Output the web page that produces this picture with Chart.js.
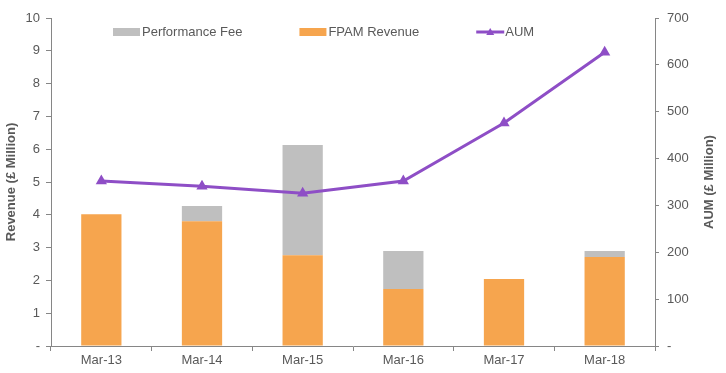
<!DOCTYPE html>
<html>
<head>
<meta charset="utf-8">
<script src="https://cdn.jsdelivr.net/npm/chart.js@4/dist/chart.umd.min.js"></script>
<style>
  html, body { margin: 0; padding: 0; background: #fff; }
  #wrap { width: 726px; height: 373px; }
</style>
</head>
<body>
<div id="wrap"><canvas id="chart"></canvas></div>
<script>
const categories = ['Mar-13', 'Mar-14', 'Mar-15', 'Mar-16', 'Mar-17', 'Mar-18'];
const fpamRevenue = [4.02, 3.8, 2.77, 1.74, 2.04, 2.71];
const performanceFee = [0, 0.47, 3.36, 1.16, 0, 0.19];
const aum = [352, 341, 326, 352, 476, 627];
const legendOrder = ['Performance Fee', 'FPAM Revenue', 'AUM'];

const GREY = '#BFBFBF';
const ORANGE = '#F6A54E';
const PURPLE = '#8E4EC6';
const TEXT = '#595959';
const AXIS = '#868686';
const FONT = "'Liberation Sans', Arial, sans-serif";

// legend + right-axis title drawn by hand: legend sits inside the plot, title reads bottom-to-top
const extras = {
  id: 'extras',
  afterDraw(chart) {
    const ctx = chart.ctx;
    const area = chart.chartArea;
    ctx.save();
    ctx.font = '13px ' + FONT;
    ctx.textBaseline = 'middle';
    ctx.fillStyle = TEXT;

    let x = area.left + 62;
    const y = area.top + 14;
    legendOrder.forEach(name => {
      const ds = chart.data.datasets.find(d => d.label === name);
      if (ds.type === 'line') {
        ctx.strokeStyle = ds.borderColor;
        ctx.lineWidth = 3;
        ctx.beginPath();
        ctx.moveTo(x, y);
        ctx.lineTo(x + 28, y);
        ctx.stroke();
        ctx.fillStyle = ds.borderColor;
        ctx.beginPath();
        ctx.moveTo(x + 14, y - 4);
        ctx.lineTo(x + 18, y + 3);
        ctx.lineTo(x + 10, y + 3);
        ctx.closePath();
        ctx.fill();
      } else {
        ctx.fillStyle = ds.backgroundColor;
        ctx.fillRect(x, y - 4, 27, 8);
      }
      ctx.fillStyle = TEXT;
      ctx.textAlign = 'left';
      ctx.fillText(name, x + 29, y);
      x += 29 + ctx.measureText(name).width + 57;
    });

    ctx.font = 'bold 13px ' + FONT;
    ctx.textAlign = 'center';
    ctx.translate(709, (area.top + area.bottom) / 2);
    ctx.rotate(-Math.PI / 2);
    ctx.fillText('AUM (£ Million)', 0, 0);
    ctx.restore();
  }
};

new Chart(document.getElementById('chart'), {
  data: {
    labels: categories,
    datasets: [
      {
        type: 'line',
        label: 'AUM',
        data: aum,
        yAxisID: 'y1',
        borderColor: PURPLE,
        backgroundColor: PURPLE,
        borderWidth: 3,
        pointStyle: 'triangle',
        pointRadius: 6.5,
        pointBorderWidth: 0,
        tension: 0,
        order: 0
      },
      {
        type: 'bar',
        label: 'FPAM Revenue',
        data: fpamRevenue,
        yAxisID: 'y',
        backgroundColor: ORANGE,
        stack: 'rev',
        barPercentage: 0.4,
        categoryPercentage: 1,
        order: 1
      },
      {
        type: 'bar',
        label: 'Performance Fee',
        data: performanceFee,
        yAxisID: 'y',
        backgroundColor: GREY,
        stack: 'rev',
        barPercentage: 0.4,
        categoryPercentage: 1,
        order: 1
      }
    ]
  },
  options: {
    responsive: true,
    maintainAspectRatio: false,
    animation: false,
    layout: { padding: { top: 18, left: 0, right: 0, bottom: 0 } },
    plugins: {
      legend: { display: false },
      tooltip: { enabled: false }
    },
    scales: {
      x: {
        stacked: true,
        afterFit: s => { s.height = 27; },
        border: { color: AXIS, width: 1 },
        grid: { display: true, drawOnChartArea: false, color: AXIS, tickLength: 5, offset: true },
        ticks: { color: TEXT, font: { family: FONT, size: 13 }, padding: 2 }
      },
      y: {
        stacked: true,
        position: 'left',
        min: 0,
        max: 10,
        afterFit: s => { s.width = 51; },
        border: { color: AXIS, width: 1 },
        grid: { display: true, drawOnChartArea: false, color: AXIS, tickLength: 5 },
        title: { display: true, text: 'Revenue (£ Million)', color: TEXT, font: { family: FONT, size: 13, weight: 'bold' }, padding: { top: 4, bottom: 0 } },
        ticks: {
          stepSize: 1,
          color: TEXT,
          font: { family: FONT, size: 13 },
          padding: 6,
          callback: v => v === 0 ? '-' : v
        }
      },
      y1: {
        position: 'right',
        min: 0,
        max: 700,
        afterFit: s => { s.width = 71; },
        border: { color: AXIS, width: 1 },
        grid: { display: true, drawOnChartArea: false, color: AXIS, tickLength: 4 },
        ticks: {
          stepSize: 100,
          color: TEXT,
          font: { family: FONT, size: 13 },
          padding: 8,
          callback: v => v === 0 ? '-' : v
        }
      }
    }
  },
  plugins: [extras]
});
</script>
</body>
</html>
